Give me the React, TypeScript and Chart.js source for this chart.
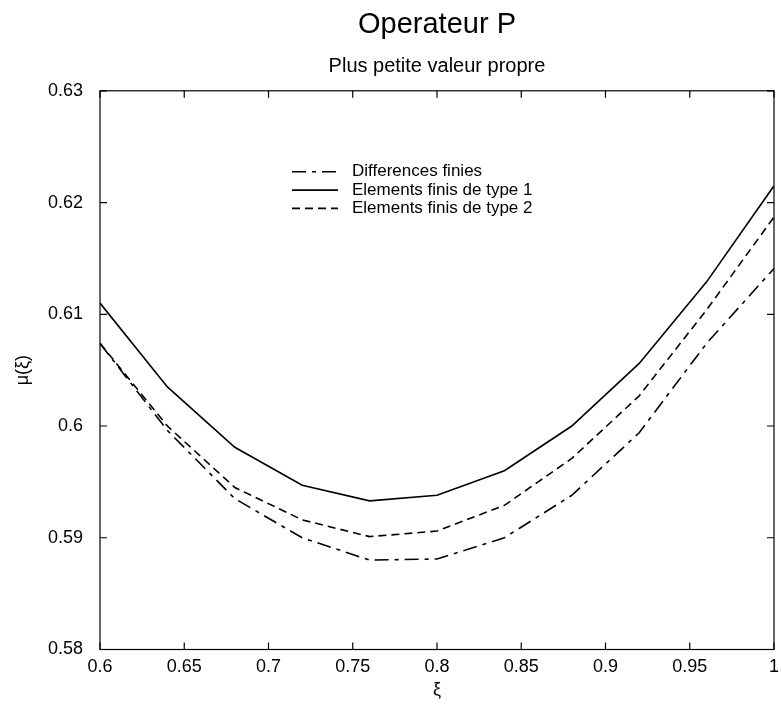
import React, { useEffect, useRef } from 'react';
import { Chart, registerables } from 'chart.js';

Chart.register(...registerables);

// ---- Data ----
const xValues = [0.6, 0.64, 0.68, 0.72, 0.76, 0.8, 0.84, 0.88, 0.92, 0.96, 1.0];
const differencesFinies = [0.6074, 0.5996, 0.5935, 0.5900, 0.5880, 0.5881, 0.5900, 0.5938, 0.5994, 0.6074, 0.6141];
const elementsType1 = [0.6110, 0.6035, 0.5981, 0.5947, 0.5933, 0.5938, 0.5960, 0.6000, 0.6056, 0.6129, 0.6215];
const elementsType2 = [0.6074, 0.6000, 0.5945, 0.5916, 0.5901, 0.5906, 0.5929, 0.5971, 0.6027, 0.6104, 0.6187];
const seriesNames = ['Differences finies', 'Elements finis de type 1', 'Elements finis de type 2'];

const xTickValues = [0.6, 0.65, 0.7, 0.75, 0.8, 0.85, 0.9, 0.95, 1.0];
const xTickLabels = ['0.6', '0.65', '0.7', '0.75', '0.8', '0.85', '0.9', '0.95', '1'];
const yTickValues = [0.58, 0.59, 0.6, 0.61, 0.62, 0.63];
const yTickLabels = ['0.58', '0.59', '0.6', '0.61', '0.62', '0.63'];

const titleText = 'Operateur P';
const subtitleText = 'Plus petite valeur propre';
const xTitle = 'ξ';
const yTitle = 'μ(ξ)';

const FONT = "'Liberation Sans', Arial, Helvetica, sans-serif";

const toPoints = (ys: number[]) => xValues.map((x, i) => ({ x, y: ys[i] }));

const framePlugin = {
  id: 'frameTicks',
  afterDatasetsDraw(chart: any) {
    const { ctx, chartArea, scales } = chart;
    const { left, right, top, bottom } = chartArea;
    const len = 7;
    ctx.save();
    ctx.strokeStyle = '#000';
    ctx.lineWidth = 1.2;
    ctx.strokeRect(left, top, right - left, bottom - top);
    ctx.beginPath();
    xTickValues.forEach((v) => {
      const px = scales.x.getPixelForValue(v);
      ctx.moveTo(px, bottom);
      ctx.lineTo(px, bottom - len);
      ctx.moveTo(px, top);
      ctx.lineTo(px, top + len);
    });
    yTickValues.forEach((v) => {
      const py = scales.y.getPixelForValue(v);
      ctx.moveTo(left, py);
      ctx.lineTo(left + len, py);
      ctx.moveTo(right, py);
      ctx.lineTo(right - len, py);
    });
    ctx.stroke();
    ctx.restore();
  },
};

const innerLegendPlugin = {
  id: 'innerLegend',
  afterDraw(chart: any) {
    const { ctx, chartArea } = chart;
    const x0 = chartArea.left + 192;
    const lineLen = 46;
    const textX = x0 + lineLen + 14;
    const y0 = chartArea.top + 81;
    const rowH = 18.3;
    ctx.save();
    ctx.font = `17px ${FONT}`;
    ctx.textBaseline = 'middle';
    ctx.textAlign = 'left';
    ctx.fillStyle = '#000';
    chart.data.datasets.forEach((ds: any, i: number) => {
      const y = y0 + i * rowH;
      ctx.beginPath();
      ctx.setLineDash(ds.borderDash || []);
      ctx.lineWidth = ds.borderWidth;
      ctx.strokeStyle = ds.borderColor;
      ctx.moveTo(x0, y);
      ctx.lineTo(x0 + lineLen, y);
      ctx.stroke();
      ctx.setLineDash([]);
      ctx.fillText(ds.label, textX, y);
    });
    ctx.restore();
  },
};

export default function App() {
  const canvasRef = useRef<HTMLCanvasElement | null>(null);

  useEffect(() => {
    if (!canvasRef.current) return;
    const chart = new Chart(canvasRef.current, {
      type: 'line',
      data: {
        datasets: [
          {
            label: seriesNames[0],
            data: toPoints(differencesFinies),
            borderColor: '#000',
            borderWidth: 1.6,
            borderDash: [14, 6, 4, 6],
            pointRadius: 0,
            fill: false,
            tension: 0,
          },
          {
            label: seriesNames[1],
            data: toPoints(elementsType1),
            borderColor: '#000',
            borderWidth: 1.6,
            borderDash: [],
            pointRadius: 0,
            fill: false,
            tension: 0,
          },
          {
            label: seriesNames[2],
            data: toPoints(elementsType2),
            borderColor: '#000',
            borderWidth: 1.6,
            borderDash: [8, 5],
            pointRadius: 0,
            fill: false,
            tension: 0,
          },
        ],
      },
      options: {
        responsive: false,
        animation: false,
        devicePixelRatio: 1,
        layout: { padding: { left: 0, right: 7, top: 0, bottom: 0 } },
        plugins: {
          legend: { display: false },
          tooltip: { enabled: false },
          title: {
            display: true,
            text: titleText,
            fullSize: false,
            color: '#000',
            font: { family: FONT, size: 29, weight: 'normal', lineHeight: 1.2 },
            padding: { top: 8, bottom: 12 },
          },
          subtitle: {
            display: true,
            text: subtitleText,
            fullSize: false,
            color: '#000',
            font: { family: FONT, size: 20, weight: 'normal', lineHeight: 1.2 },
            padding: { top: 0, bottom: 12 },
          },
        },
        scales: {
          x: {
            type: 'linear',
            min: 0.6,
            max: 1.0,
            afterBuildTicks: (scale: any) => {
              scale.ticks = xTickValues.map((v) => ({ value: v }));
            },
            afterFit: (scale: any) => {
              scale.height = 56.5;
              scale.paddingRight = 0;
              scale.paddingLeft = 0;
            },
            grid: { display: false, drawTicks: false },
            border: { display: false },
            ticks: {
              color: '#000',
              padding: 7,
              maxRotation: 0,
              autoSkip: false,
              font: { family: FONT, size: 18 },
              callback: (_v: any, i: number) => xTickLabels[i],
            },
            title: {
              display: true,
              text: xTitle,
              color: '#000',
              font: { family: FONT, size: 18 },
              padding: { top: 0, bottom: 5 },
            },
          },
          y: {
            type: 'linear',
            min: 0.58,
            max: 0.63,
            afterBuildTicks: (scale: any) => {
              scale.ticks = yTickValues.map((v) => ({ value: v }));
            },
            afterFit: (scale: any) => {
              scale.width = 100;
            },
            grid: { display: false, drawTicks: false },
            border: { display: false },
            ticks: {
              color: '#000',
              padding: 17,
              autoSkip: false,
              font: { family: FONT, size: 18 },
              callback: (_v: any, i: number) => yTickLabels[i],
            },
            title: {
              display: true,
              text: yTitle,
              color: '#000',
              font: { family: FONT, size: 18 },
              padding: { top: 12, bottom: 0 },
            },
          },
        },
      },
      plugins: [framePlugin, innerLegendPlugin],
    });
    return () => chart.destroy();
  }, []);

  return (
    <div style={{ position: 'absolute', left: 0, top: 0, width: 781, height: 706, background: '#fff' }}>
      <canvas ref={canvasRef} width={781} height={706} style={{ display: 'block' }} />
    </div>
  );
}
